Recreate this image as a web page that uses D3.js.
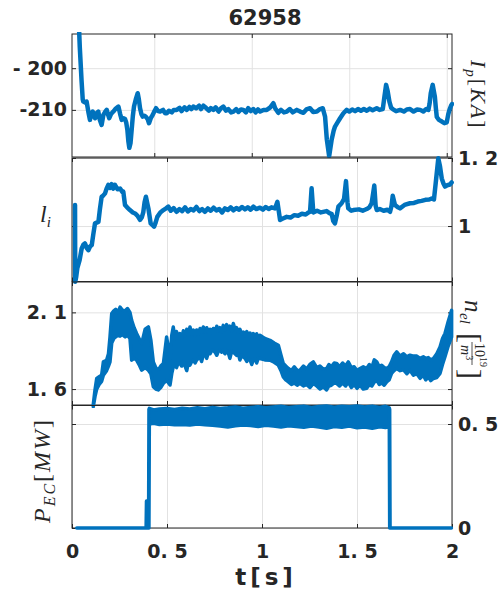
<!DOCTYPE html>
<html lang="en">
<head>
<meta charset="UTF-8">
<title>62958</title>
<style>
  body { margin: 0; background: #fff; }
  svg { display: block; }
  .tick text, .lbl { fill: #262626; }
</style>
</head>
<body>
<svg id="chart" width="502" height="593"></svg>
<script src="https://d3js.org/d3.v7.min.js"></script>
<script>

const shot = "62958";
const xTicks = [0, 0.5, 1, 1.5, 2];
const xTickLabels = ["0", "0. 5", "1", "1. 5", "2"];

// plasma current, kA (top panel has its own time range)
const ipT = [0.112,0.118,0.127,0.133,0.136,0.145,0.153,0.162,0.170,0.177,
  0.184,0.190,0.196,0.204,0.213,0.220,0.230,0.239,0.248,0.256,
  0.262,0.269,0.278,0.290,0.300,0.308,0.316,0.325,0.333,0.342,
  0.350,0.356,0.362,0.367,0.372,0.378,0.384,0.390,0.396,0.405,
  0.415,0.421,0.427,0.434,0.441,0.450,0.458,0.466,0.473,0.482,
  0.492,0.500,0.509,0.520,0.530,0.545,0.555,0.564,0.575,0.590,
  0.600,0.615,0.630,0.640,0.655,0.667,0.680,0.690,0.700,0.715,
  0.730,0.740,0.752,0.765,0.780,0.790,0.803,0.815,0.830,0.842,
  0.854,0.868,0.880,0.894,0.906,0.920,0.932,0.945,0.957,0.970,
  0.982,0.995,1.008,1.020,1.032,1.043,1.060,1.077,1.095,1.111,
  1.120,1.136,1.150,1.165,1.180,1.195,1.210,1.231,1.248,1.265,
  1.280,1.299,1.315,1.334,1.350,1.364,1.376,1.385,1.397,1.410,
  1.420,1.427,1.440,1.453,1.470,1.487,1.500,1.515,1.530,1.545,
  1.560,1.575,1.590,1.605,1.620,1.641,1.655,1.672,1.680,1.689,
  1.697,1.706,1.715,1.723,1.740,1.761,1.780,1.795,1.812,1.830,
  1.848,1.864,1.880,1.895,1.906,1.912,1.918,1.928,1.939,1.944,
  1.949,1.960,1.975,1.988,2.000,2.008,2.014,2.022,2.027];
const ipV = [-188,-195,-203,-207.5,-208.0,-208.2,-208.0,-210.5,-212.4,-211.0,
  -210.4,-211.5,-212.0,-210.8,-210.4,-212.3,-213.6,-211.2,-210.5,-210.0,
  -211.0,-212.0,-211.0,-210.4,-209.8,-209.5,-209.2,-211.0,-212.4,-212.0,
  -212.2,-213.0,-214.8,-217.5,-219.1,-218.0,-214.8,-211.5,-209.2,-207.5,
  -206.0,-207.5,-209.6,-211.0,-211.6,-211.4,-211.7,-212.2,-213.2,-212.0,
  -211.2,-210.4,-209.6,-210.3,-210.4,-210.0,-210.8,-210.8,-210.2,-210.6,
  -210.0,-210.0,-209.5,-210.3,-209.4,-210.0,-209.3,-209.8,-209.2,-209.6,
  -209.0,-209.8,-209.0,-209.5,-210.2,-209.6,-210.0,-209.4,-210.4,-209.6,
  -209.2,-210.2,-209.8,-210.6,-210.4,-209.8,-210.5,-209.9,-210.0,-210.6,
  -209.6,-210.3,-209.8,-210.6,-209.9,-210.4,-210.0,-210.0,-209.4,-208.4,
  -209.6,-210.7,-210.0,-210.6,-210.4,-209.8,-210.6,-210.0,-210.4,-210.7,
  -209.9,-209.6,-210.5,-210.4,-209.8,-209.6,-211.6,-217.1,-221.1,-217.1,
  -215.0,-214.0,-213.0,-212.0,-210.8,-210.0,-210.4,-209.9,-210.3,-209.8,
  -210.2,-209.8,-210.2,-209.7,-210.1,-209.6,-210.0,-209.8,-207.0,-204.0,
  -205.5,-208.0,-209.5,-209.8,-210.3,-210.0,-210.4,-209.9,-209.8,-210.4,
  -209.9,-210.0,-210.4,-209.8,-210.0,-208.5,-206.0,-204.0,-206.8,-209.5,
  -211.7,-212.4,-212.8,-213.2,-213.0,-211.0,-210.0,-209.0,-208.6];
const ipTicks = [-210, -200];
const ipTickLabels = ["-210", "- 200"];

// internal inductance
const liT = [0.016,0.017,0.022,0.028,0.040,0.051,0.060,0.068,0.078,0.086,
  0.095,0.104,0.112,0.121,0.130,0.139,0.147,0.156,0.165,0.174,
  0.182,0.191,0.200,0.209,0.217,0.226,0.240,0.253,0.265,0.270,
  0.279,0.290,0.305,0.320,0.332,0.345,0.358,0.367,0.375,0.382,
  0.389,0.395,0.402,0.414,0.423,0.432,0.440,0.449,0.465,0.481,
  0.495,0.507,0.520,0.535,0.550,0.565,0.580,0.595,0.610,0.625,
  0.640,0.655,0.670,0.685,0.700,0.715,0.730,0.745,0.760,0.775,
  0.790,0.805,0.820,0.835,0.850,0.865,0.880,0.895,0.910,0.925,
  0.940,0.955,0.970,0.989,1.005,1.020,1.035,1.050,1.068,1.075,
  1.081,1.088,1.095,1.110,1.130,1.150,1.170,1.190,1.210,1.230,
  1.245,1.253,1.261,1.270,1.290,1.310,1.340,1.355,1.367,1.375,
  1.384,1.393,1.402,1.419,1.432,1.442,1.450,1.454,1.470,1.481,
  1.510,1.530,1.551,1.565,1.577,1.586,1.591,1.598,1.604,1.620,
  1.640,1.660,1.674,1.682,1.688,1.694,1.700,1.715,1.726,1.750,
  1.779,1.800,1.820,1.840,1.860,1.880,1.893,1.905,1.915,1.928,
  1.937,1.946,1.955,1.963,1.975,1.989,1.998];
const liV = [1.062,0.836,0.850,0.876,0.900,0.934,0.945,0.949,0.935,0.929,
  0.940,0.944,0.975,1.008,1.010,1.012,1.050,1.086,1.090,1.096,
  1.110,1.121,1.112,1.123,1.110,1.121,1.108,1.110,1.100,1.101,
  1.062,1.055,1.047,1.040,1.037,1.030,1.018,1.025,1.040,1.070,
  1.086,1.070,1.052,1.008,1.003,0.998,1.010,1.027,1.040,1.047,
  1.052,1.057,1.045,1.053,1.042,1.050,1.044,1.055,1.043,1.050,
  1.046,1.056,1.044,1.050,1.042,1.052,1.045,1.054,1.046,1.050,
  1.040,1.052,1.047,1.055,1.046,1.053,1.048,1.056,1.049,1.055,
  1.048,1.057,1.050,1.054,1.048,1.056,1.050,1.055,1.052,1.062,
  1.071,1.045,1.018,1.022,1.027,1.025,1.032,1.030,1.036,1.034,
  1.040,1.042,1.111,1.040,1.045,1.040,1.044,1.038,1.035,1.015,
  1.008,1.030,1.057,1.067,1.080,1.132,1.070,1.052,1.045,1.047,
  1.049,1.045,1.050,1.055,1.067,1.100,1.119,1.060,1.047,1.050,
  1.045,1.048,1.042,1.060,1.089,1.075,1.062,1.055,1.052,1.062,
  1.067,1.068,1.072,1.074,1.077,1.078,1.081,1.078,1.130,1.199,
  1.175,1.140,1.125,1.116,1.120,1.122,1.128];
const liTicks = [1, 1.2];
const liTickLabels = ["1", "1. 2"];

// line density, 1e19 m^-3 : noisy signal, kept as lower / upper envelope
const neT = [
  0.112,0.121,0.130,0.143,0.156,0.165,0.182,0.192,0.200,0.209,
  0.220,0.230,0.242,0.253,0.265,0.280,0.292,0.305,0.314,0.327,
  0.340,0.353,0.367,0.385,0.402,0.415,0.428,0.441,0.454,0.467,
  0.481,0.498,0.516,
  0.525,0.533,0.542,0.550,0.559,0.568,0.577,0.586,0.595,0.604,
  0.612,0.621,0.630,0.639,0.648,0.656,0.665,0.674,0.682,0.691,
  0.700,0.709,0.718,0.727,0.735,0.744,0.753,0.762,0.770,0.779,
  0.788,0.796,0.805,0.814,0.822,0.831,0.840,0.849,0.858,0.866,
  0.875,0.884,0.893,0.902,0.911,0.920,0.928,0.937,0.946,0.954,
  0.963,0.972,0.980,0.989,
  1.015,1.042,1.064,1.086,1.100,
  1.112,1.125,1.139,1.155,1.170,1.185,1.200,1.218,1.235,1.252,
  1.270,1.288,1.305,1.322,1.340,1.352,1.365,1.380,1.393,1.408,
  1.424,1.440,1.454,1.470,1.485,1.500,1.516,1.533,1.551,1.565,
  1.578,1.591,1.604,1.617,1.630,1.643,1.656,1.669,1.682,1.695,
  1.709,1.727,1.745,1.762,1.779,1.797,1.815,1.832,1.849,1.862,
  1.875,1.888,1.902,
  1.920,1.937,1.950,1.963,1.980,1.998];
const neLo = [
  1.485,1.550,1.600,1.630,1.650,1.690,1.720,1.750,1.777,1.900,
  1.930,1.940,1.950,1.945,1.955,1.940,1.950,1.930,1.788,1.800,
  1.788,1.760,1.723,1.740,1.723,1.700,1.615,1.600,1.594,1.610,
  1.637,1.658,1.626,
  1.700,1.745,1.760,1.740,1.770,1.767,1.750,1.780,1.750,1.720,
  1.770,1.756,1.780,1.790,1.770,1.790,1.800,1.810,1.780,1.821,
  1.830,1.800,1.840,1.830,1.850,1.853,1.840,1.820,1.845,1.855,
  1.840,1.853,1.830,1.850,1.840,1.800,1.845,1.842,1.830,1.820,
  1.830,1.790,1.820,1.810,1.800,1.780,1.800,1.790,1.760,1.788,
  1.800,1.770,1.800,1.799,
  1.790,1.788,1.775,1.756,1.720,
  1.680,1.660,1.647,1.630,1.640,1.625,1.637,1.620,1.630,1.610,
  1.637,1.620,1.600,1.615,1.594,1.620,1.625,1.640,1.637,1.620,
  1.640,1.620,1.647,1.610,1.630,1.605,1.626,1.600,1.605,1.630,
  1.620,1.645,1.658,1.630,1.640,1.625,1.647,1.660,1.702,1.720,
  1.734,1.720,1.725,1.700,1.723,1.690,1.700,1.670,1.691,1.660,
  1.680,1.655,1.669,
  1.675,1.702,1.760,1.810,1.880,1.940];
const neHi = [
  1.500,1.594,1.669,1.680,1.691,1.777,1.788,1.830,1.940,2.092,
  2.110,2.120,2.100,2.134,2.115,2.110,2.125,2.100,2.048,2.000,
  1.962,1.930,1.897,1.990,2.005,1.920,1.777,1.740,1.723,1.750,
  1.767,1.940,1.799,
  1.950,2.005,1.930,1.975,1.940,1.962,1.930,1.980,1.950,1.990,
  1.955,2.005,1.960,1.985,1.950,1.985,1.960,1.995,1.970,2.005,
  1.975,2.000,1.970,1.990,1.965,1.995,1.970,2.010,1.980,2.000,
  1.975,2.015,1.985,2.020,1.990,2.010,1.980,2.027,1.990,2.000,
  1.970,1.990,1.960,1.972,1.950,1.975,1.945,1.965,1.940,1.962,
  1.940,1.960,1.935,1.951,
  1.930,1.918,1.900,1.886,1.820,
  1.767,1.750,1.734,1.720,1.745,1.720,1.723,1.750,1.730,1.760,
  1.777,1.740,1.750,1.730,1.734,1.760,1.745,1.770,1.767,1.745,
  1.770,1.750,1.777,1.740,1.745,1.720,1.734,1.745,1.734,1.760,
  1.740,1.790,1.777,1.745,1.755,1.740,1.734,1.745,1.777,1.820,
  1.842,1.815,1.830,1.810,1.821,1.815,1.815,1.800,1.810,1.800,
  1.805,1.790,1.799,
  1.830,1.875,1.930,1.962,2.040,2.113];
const neTicks = [1.6, 2.1];
const neTickLabels = ["1. 6", "2. 1"];

// ECRH power, MW : envelope as well
const pecT = [0.025,0.390,0.392,0.396,0.398,0.403,0.405,0.407,0.430,0.460,
  0.500,0.540,0.580,0.620,0.660,0.700,0.740,0.780,0.820,0.860,
  0.900,0.940,0.980,1.020,1.060,1.100,1.140,1.180,1.220,1.260,
  1.300,1.340,1.380,1.420,1.460,1.500,1.540,1.580,1.620,1.650,
  1.670,1.672,1.674,1.997];
const pecLo = [0,0,0,0,0,0,0,0.500,0.503,0.498,
  0.500,0.496,0.498,0.495,0.500,0.497,0.494,0.490,0.486,0.492,
  0.495,0.493,0.488,0.494,0.490,0.486,0.492,0.488,0.484,0.490,
  0.486,0.480,0.488,0.484,0.490,0.482,0.486,0.480,0.487,0.483,
  0.488,0,0,0];
const pecHi = [0,0,0.130,0.130,0,0,0.570,0.575,0.568,0.572,
  0.575,0.570,0.576,0.572,0.578,0.574,0.580,0.575,0.578,0.582,
  0.576,0.580,0.583,0.578,0.582,0.585,0.579,0.583,0.586,0.580,
  0.584,0.587,0.581,0.585,0.583,0.587,0.582,0.586,0.580,0.585,
  0.578,0.570,0,0];
const pecTicks = [0, 0.5];
const pecTickLabels = ["0", "0. 5"];

const svg = d3.select("#chart");
const X0 = 72, X1 = 452;
const blue = "#0072bd", ink = "#262626", gridCol = "#e2e2e2";
const tickFont = "DejaVu Sans, Verdana, sans-serif";
const mathFont = "Liberation Serif, Times New Roman, serif";

const panels = [
  {id: "ip",  top: 34,    bottom: 157,   xDom: [0.078, 2.027], xT: [0.5, 1, 1.5, 2],
   yDom: [-221.3, -191.8], yT: ipTicks,  yL: ipTickLabels,  side: "left"},
  {id: "li",  top: 158,   bottom: 281.5, xDom: [0, 2], xT: xTicks,
   yDom: [0.837, 1.2],     yT: liTicks,  yL: liTickLabels,  side: "right"},
  {id: "ne",  top: 282,   bottom: 405,   xDom: [0, 2], xT: xTicks,
   yDom: [1.496, 2.298],   yT: neTicks,  yL: neTickLabels,  side: "left"},
  {id: "pec", top: 405.5, bottom: 528,   xDom: [0, 2], xT: xTicks,
   yDom: [0, 0.589],       yT: pecTicks, yL: pecTickLabels, side: "right"}
];

function makePanel(p) {
  const x = d3.scaleLinear().domain(p.xDom).range([X0, X1]);
  const y = d3.scaleLinear().domain(p.yDom).range([p.bottom, p.top]);
  const h = p.bottom - p.top;
  const g = svg.append("g");

  // grid
  g.append("g").attr("transform", `translate(0,${p.bottom})`)
    .call(d3.axisBottom(x).tickValues(p.xT).tickSize(-h).tickFormat(""))
    .call(a => a.select(".domain").remove())
    .selectAll("line").attr("stroke", gridCol);
  g.append("g").attr("transform", `translate(${X0},0)`)
    .call(d3.axisLeft(y).tickValues(p.yT).tickSize(-(X1 - X0)).tickFormat(""))
    .call(a => a.select(".domain").remove())
    .selectAll("line").attr("stroke", gridCol);

  // frame
  g.append("rect").attr("x", X0).attr("y", p.top)
    .attr("width", X1 - X0).attr("height", h)
    .attr("fill", "none").attr("stroke", ink).attr("stroke-width", 1);

  // inward ticks all round
  const ticks = [
    [d3.axisBottom(x).tickValues(p.xT), `translate(0,${p.bottom})`],
    [d3.axisTop(x).tickValues(p.xT), `translate(0,${p.top})`],
    [d3.axisLeft(y).tickValues(p.yT), `translate(${X0},0)`],
    [d3.axisRight(y).tickValues(p.yT), `translate(${X1},0)`]
  ];
  ticks.forEach(([ax, tr]) => {
    g.append("g").attr("transform", tr)
      .call(ax.tickSize(-4).tickFormat(""))
      .call(a => a.select(".domain").remove())
      .selectAll("line").attr("stroke", ink);
  });

  // y tick labels
  const yAx = p.side === "left"
    ? d3.axisLeft(y).tickPadding(5) : d3.axisRight(y).tickPadding(6);
  g.append("g").attr("transform", `translate(${p.side === "left" ? X0 : X1},0)`)
    .call(yAx.tickValues(p.yT).tickSize(0).tickFormat((d, i) => p.yL[i]))
    .call(a => a.select(".domain").remove())
    .attr("font-family", tickFont).attr("font-size", 19).attr("font-weight", "bold");

  // clip for the data
  svg.append("clipPath").attr("id", "clip-" + p.id)
    .append("rect").attr("x", X0 - 2).attr("y", p.top - 2)
    .attr("width", X1 - X0 + 4).attr("height", h + 5);

  const data = svg.append("g").attr("clip-path", `url(#clip-${p.id})`);
  return {x, y, g, data};
}

const P = panels.map(makePanel);

// Ip and li: plain lines
const lineOf = (pn, ts, vs) => d3.line()
  .x((d, i) => pn.x(ts[i])).y(d => pn.y(d))(vs);

P[0].data.append("path").attr("d", lineOf(P[0], ipT, ipV))
  .attr("fill", "none").attr("stroke", blue).attr("stroke-width", 4.5)
  .attr("stroke-linejoin", "round").attr("stroke-linecap", "round");
P[1].data.append("path").attr("d", lineOf(P[1], liT, liV))
  .attr("fill", "none").attr("stroke", blue).attr("stroke-width", 4.5)
  .attr("stroke-linejoin", "round").attr("stroke-linecap", "round");

// ne and P_EC: noise bands
const bandOf = (pn, ts, lo, hi) => d3.area()
  .x((d, i) => pn.x(ts[i])).y0((d, i) => pn.y(lo[i])).y1(d => pn.y(d))(hi);

P[2].data.append("path").attr("d", bandOf(P[2], neT, neLo, neHi))
  .attr("fill", blue).attr("stroke", blue).attr("stroke-width", 3.5)
  .attr("stroke-linejoin", "round");
P[3].data.append("path").attr("d", bandOf(P[3], pecT, pecLo, pecHi))
  .attr("fill", blue).attr("stroke", blue).attr("stroke-width", 3.5)
  .attr("stroke-linejoin", "round");

// x tick labels under the last panel
svg.append("g").attr("transform", `translate(0,${panels[3].bottom})`)
  .call(d3.axisBottom(P[3].x).tickValues(xTicks).tickSize(0).tickPadding(17)
    .tickFormat((d, i) => xTickLabels[i]))
  .call(a => a.select(".domain").remove())
  .attr("font-family", tickFont).attr("font-size", 19).attr("font-weight", "bold");

// title and x label
svg.append("text").attr("class", "lbl").attr("x", 265).attr("y", 25)
  .attr("text-anchor", "middle").attr("font-family", tickFont)
  .attr("font-size", 21).attr("font-weight", "bold").text(shot);
svg.append("text").attr("class", "lbl").attr("x", 266).attr("y", 585)
  .attr("text-anchor", "middle").attr("font-family", tickFont)
  .attr("font-size", 23).attr("font-weight", "bold").attr("letter-spacing", 4)
  .text("t[s]");

// math style axis labels
function mathText(parent, x, y, size) {
  return parent.append("text").attr("class", "lbl").attr("x", x).attr("y", y)
    .attr("font-family", mathFont).attr("font-size", size);
}

// I_p[KA], reading downward on the right of panel 1
const ipLab = mathText(svg.append("g").attr("transform", "translate(471,60) rotate(90)"), 0, 0, 22)
  .attr("letter-spacing", 2);
ipLab.append("tspan").attr("font-style", "italic").text("I");
ipLab.append("tspan").attr("font-style", "italic").attr("font-size", 15).attr("dy", 5).text("p");
ipLab.append("tspan").attr("dy", -5).text("[");
ipLab.append("tspan").attr("font-style", "italic").text("KA");
ipLab.append("tspan").text("]");

// l_i
const liLab = mathText(svg, 40, 222, 24);
liLab.append("tspan").attr("font-style", "italic").text("l");
liLab.append("tspan").attr("font-style", "italic").attr("font-size", 15).attr("dy", 5).text("i");

// n_el [10^19 / m^3]
const neG = svg.append("g").attr("transform", "translate(465,300) rotate(90)");
mathText(neG, 0, 0, 25).attr("font-style", "italic").text("n");
mathText(neG, 13, 5, 15).attr("font-style", "italic").text("el");
mathText(neG, 33, 4, 30).text("[");
const num = mathText(neG, 43, -10, 14);
num.append("tspan").text("10");
num.append("tspan").attr("font-size", 10).attr("dy", -5).text("19");
neG.append("line").attr("x1", 42).attr("x2", 65).attr("y1", -7).attr("y2", -7)
  .attr("stroke", ink).attr("stroke-width", 0.8);
const den = mathText(neG, 45, 4, 14);
den.append("tspan").attr("font-style", "italic").text("m");
den.append("tspan").attr("font-size", 10).attr("dy", -5).text("3");
mathText(neG, 69, 4, 30).text("]");

// P_EC[MW], reading upward on the left of panel 4
const pLab = mathText(svg.append("g").attr("transform", "translate(50,523) rotate(-90)"), 0, 0, 24)
  .attr("letter-spacing", 2);
pLab.append("tspan").attr("font-style", "italic").text("P");
pLab.append("tspan").attr("font-style", "italic").attr("font-size", 16).attr("dy", 5).text("EC");
pLab.append("tspan").attr("dy", -5).text("[");
pLab.append("tspan").attr("font-style", "italic").text("MW");
pLab.append("tspan").text("]");

</script>
</body>
</html>
